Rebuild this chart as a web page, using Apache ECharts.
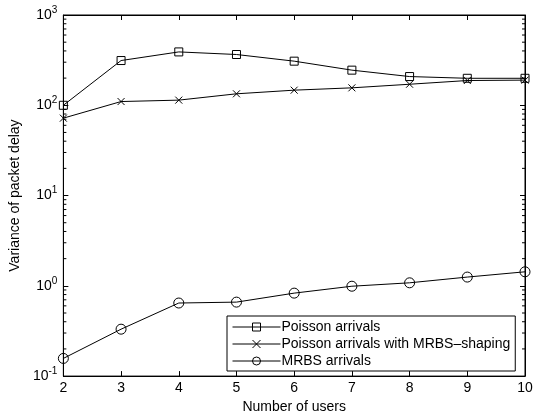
<!DOCTYPE html>
<html><head><meta charset="utf-8">
<script src="https://cdn.jsdelivr.net/npm/echarts@6/dist/echarts.min.js"></script>
<style>html,body{margin:0;padding:0;background:#fff}#c{width:539px;height:419px}</style>
</head><body><div id="c"></div>
<script>
var users = [2, 3, 4, 5, 6, 7, 8, 9, 10];
var poisson = [100, 313, 390, 365, 308, 245, 208, 199, 199];
var shaping = [72, 110, 114, 134, 147, 156, 171, 188, 190];
var mrbs = [0.157, 0.331, 0.645, 0.66, 0.83, 0.99, 1.08, 1.25, 1.43];
var minorTicks = [];
[0.1, 1, 10, 100].forEach(function (d) { for (var k = 2; k <= 9; k++) minorTicks.push(+(d * k).toPrecision(3)); });

var font = 'Liberation Sans, Arial, Helvetica, sans-serif';
function pairs(arr) { return users.map(function (u, i) { return [u, arr[i]]; }); }
var crossPath = 'path://M0,0L10,10M10,0L0,10';

var chart = echarts.init(document.getElementById('c'), null, {renderer: 'canvas'});
chart.setOption({
  animation: false,
  backgroundColor: '#fff',
  textStyle: {fontFamily: font, color: '#000'},
  grid: {left: 63, right: 14, top: 15, bottom: 39, show: true, borderColor: '#000', borderWidth: 1, backgroundColor: 'transparent'},
  xAxis: [{
    type: 'value', min: 2, max: 10, interval: 1, position: 'bottom',
    name: 'Number of users', nameLocation: 'middle', nameGap: 22,
    nameTextStyle: {fontFamily: font, fontSize: 14, color: '#000'},
    axisLine: {show: true, lineStyle: {color: '#000', width: 1}},
    axisTick: {show: true, inside: true, length: 5, lineStyle: {color: '#000'}},
    axisLabel: {fontFamily: font, fontSize: 14, color: '#000', margin: 5},
    splitLine: {show: false}
  }, {
    type: 'value', min: 2, max: 10, interval: 1, position: 'top',
    axisLine: {show: true, lineStyle: {color: '#000', width: 1}},
    axisTick: {show: true, inside: true, length: 5, lineStyle: {color: '#000'}},
    axisLabel: {show: false}, splitLine: {show: false}
  }],
  yAxis: [{
    type: 'log', logBase: 10, min: 0.1, max: 1000, splitNumber: 4, position: 'left',
    name: 'Variance of packet delay', nameLocation: 'middle', nameGap: 40,
    nameTextStyle: {fontFamily: font, fontSize: 14, color: '#000'},
    axisLine: {show: true, lineStyle: {color: '#000', width: 1}},
    axisTick: {show: true, inside: true, length: 5, lineStyle: {color: '#000'}},
    axisLabel: {
      margin: 6,
      formatter: function (v) { var e = Math.round(Math.log10(v)); return '{b|10}{s|' + e + '}'; },
      rich: {
        b: {fontFamily: font, fontSize: 14, color: '#000'},
        s: {fontFamily: font, fontSize: 10, color: '#000', verticalAlign: 'top', padding: [0, 0, 10, 0]}
      }
    },
    splitLine: {show: false}
  }, {
    type: 'log', logBase: 10, min: 0.1, max: 1000, splitNumber: 4, position: 'right',
    axisLine: {show: true, lineStyle: {color: '#000', width: 1}},
    axisTick: {show: true, inside: true, length: 5, lineStyle: {color: '#000'}},
    axisLabel: {show: false}, splitLine: {show: false}
  }],
  legend: {
    orient: 'vertical', left: 227, top: 316,
    padding: [4, 5, 3, 5], itemGap: 3, itemWidth: 48, itemHeight: 10,
    backgroundColor: '#fff', borderColor: '#000', borderWidth: 1, borderRadius: 0,
    lineStyle: {width: 1, color: '#000'},
    itemStyle: {borderWidth: 1, borderColor: '#000', color: 'rgba(255,255,255,0)'},
    textStyle: {fontFamily: font, fontSize: 14, color: '#000', padding: [0, 0, 0, -4]},
    data: ['Poisson arrivals', 'Poisson arrivals with MRBS\u2013shaping', 'MRBS arrivals']
  },
  series: [{
    name: 'Poisson arrivals', type: 'line', data: pairs(poisson),
    symbol: 'rect', symbolSize: 8, showAllSymbol: true,
    lineStyle: {color: '#000', width: 1},
    itemStyle: {color: 'rgba(255,255,255,0)', borderColor: '#000', borderWidth: 1}
  }, {
    name: 'Poisson arrivals with MRBS\u2013shaping', type: 'line', data: pairs(shaping),
    symbol: crossPath, symbolSize: 7, showAllSymbol: true,
    lineStyle: {color: '#000', width: 1},
    itemStyle: {color: 'rgba(255,255,255,0)', borderColor: '#000', borderWidth: 1}
  }, {
    name: 'MRBS arrivals', type: 'line', data: pairs(mrbs),
    symbol: 'circle', symbolSize: 10, showAllSymbol: true,
    lineStyle: {color: '#000', width: 1},
    itemStyle: {color: 'rgba(255,255,255,0)', borderColor: '#000', borderWidth: 1}
  }, {
    name: 'minor', type: 'custom', silent: true, clip: false,
    data: minorTicks.map(function (v) { return [2, v]; }),
    renderItem: function (params, api) {
      var v = api.value(1);
      var l = api.coord([2, v]);
      var r = api.coord([10, v]);
      var st = {stroke: '#000', lineWidth: 1};
      return {type: 'group', children: [
        {type: 'line', shape: {x1: l[0], y1: l[1], x2: l[0] + 3, y2: l[1]}, style: st},
        {type: 'line', shape: {x1: r[0], y1: r[1], x2: r[0] - 3, y2: r[1]}, style: st}
      ]};
    }
  }]
});
</script></body></html>
